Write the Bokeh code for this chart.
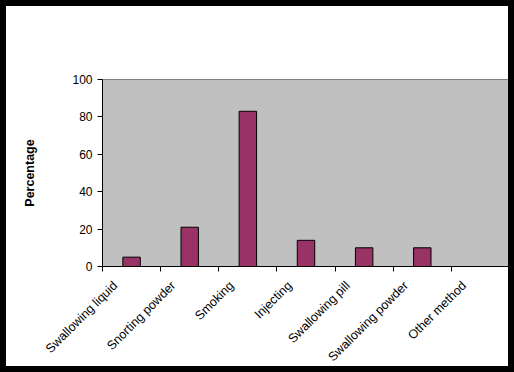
from bokeh.plotting import figure
from bokeh.models import ColumnDataSource, FixedTicker, Range1d, LinearAxis
from bokeh.embed import file_html
from bokeh.resources import INLINE
from math import pi

categories = ["Swallowing liquid", "Snorting powder", "Smoking", "Injecting",
              "Swallowing pill", "Swallowing powder", "Other method"]
percentages = [5, 21, 83, 14, 10, 10, 0]
y_ticks = [0, 20, 40, 60, 80, 100]

FONT = "Liberation Sans"
LABEL_SHIFT = 0.28  # labels end slightly left of each category centre

centers = [i + 0.5 for i in range(len(categories))]
label_pos = [round(c - LABEL_SHIFT, 2) for c in centers]
src = ColumnDataSource(dict(x=centers, top=percentages, label=categories))

p = figure(width=502, height=360, output_backend="svg", toolbar_location=None,
           x_range=Range1d(0, len(categories)), y_range=Range1d(0, 100),
           min_border_left=96, min_border_right=11, min_border_top=73, min_border_bottom=112)
p.styles = {"border": "6px solid black", "box-sizing": "content-box"}

p.background_fill_color = "#C0C0C0"
p.border_fill_color = "white"
p.outline_line_color = "#808080"
p.outline_line_width = 1
p.grid.visible = False

p.vbar(x="x", top="top", width=0.3, bottom=0, source=src,
       fill_color="#993366", line_color="black", line_width=1)

# y axis
p.yaxis.ticker = FixedTicker(ticks=y_ticks)
p.yaxis.minor_tick_line_color = None
p.yaxis.major_tick_in = 0
p.yaxis.major_tick_out = 5
p.yaxis.axis_line_color = "black"
p.yaxis.major_label_text_font = FONT
p.yaxis.major_label_text_font_size = "12px"
p.yaxis.major_label_text_color = "black"
p.yaxis.axis_label = "Percentage"
p.yaxis.axis_label_text_font = FONT
p.yaxis.axis_label_text_font_size = "12.5px"
p.yaxis.axis_label_text_font_style = "bold"
p.yaxis.axis_label_text_color = "black"
p.yaxis.axis_label_standoff = 32

# x axis: tick marks at category boundaries
p.xaxis.ticker = FixedTicker(ticks=list(range(len(categories) + 1)))
p.xaxis.minor_tick_line_color = None
p.xaxis.major_tick_in = 0
p.xaxis.major_tick_out = 5
p.xaxis.axis_line_color = "black"
p.xaxis.major_label_text_font_size = "0px"
p.xaxis.major_label_text_color = None
p.xaxis.major_label_standoff = 0

# second x axis carrying the category labels
lab_axis = LinearAxis(ticker=FixedTicker(ticks=label_pos),
                      major_label_overrides={c: lab for c, lab in zip(label_pos, categories)},
                      major_label_orientation=pi / 4,
                      major_label_text_font=FONT, major_label_text_font_size="12.5px",
                      major_label_text_color="black", major_label_standoff=6,
                      axis_line_color=None, major_tick_line_color=None,
                      minor_tick_line_color=None)
p.add_layout(lab_axis, "below")

open("out.html", "w").write(file_html(p, INLINE))
